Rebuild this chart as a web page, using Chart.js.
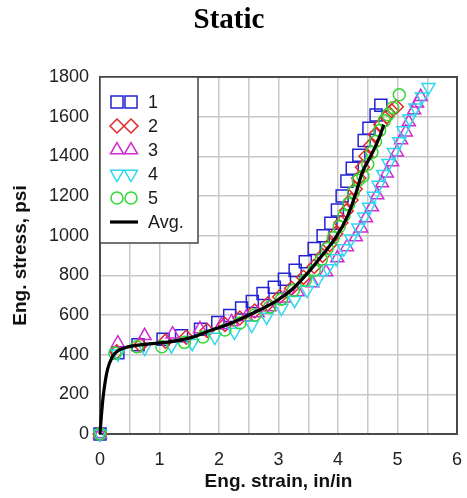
<!DOCTYPE html>
<html><head><meta charset="utf-8">
<script src="https://cdn.jsdelivr.net/npm/chart.js@4/dist/chart.umd.min.js"></script>
<style>html,body{margin:0;padding:0;background:#fff;} #wrap{width:467px;height:498px;position:relative;}</style>
</head><body><div id="wrap"><canvas id="c"></canvas></div>
<script>
// ---- data ----
const seriesNames = ['1', '2', '3', '4', '5', 'Avg.'];

const s1Strain = [0, 0.30, 0.64, 1.06, 1.37, 1.69, 1.98, 2.18, 2.38, 2.56, 2.74, 2.93, 3.10, 3.28, 3.45, 3.60, 3.75, 3.88, 3.99, 4.07, 4.15, 4.24, 4.35, 4.44, 4.52, 4.64, 4.72];
const s1Stress = [0, 410, 450, 478, 495, 528, 562, 598, 635, 668, 708, 740, 780, 825, 868, 935, 1000, 1063, 1129, 1200, 1275, 1340, 1406, 1480, 1542, 1608, 1658];

const s2Strain = [0, 0.28, 0.68, 1.10, 1.45, 1.80, 2.10, 2.35, 2.60, 2.82, 3.02, 3.22, 3.42, 3.60, 3.74, 3.86, 3.96, 4.05, 4.14, 4.22, 4.29, 4.35, 4.41, 4.47, 4.55, 4.63, 4.72, 4.82, 4.90, 4.98];
const s2Stress = [0, 415, 448, 468, 488, 522, 552, 585, 620, 655, 692, 735, 790, 845, 900, 955, 1010, 1065, 1125, 1180, 1235, 1290, 1345, 1400, 1455, 1510, 1560, 1600, 1630, 1650];

const s3Strain = [0, 0.30, 0.75, 1.22, 1.68, 2.04, 2.21, 2.46, 2.65, 2.85, 3.10, 3.32, 3.57, 3.80, 3.99, 4.15, 4.30, 4.39, 4.47, 4.57, 4.66, 4.74, 4.82, 4.91, 4.99, 5.06, 5.14, 5.19, 5.28, 5.33, 5.39];
const s3Stress = [0, 458, 495, 503, 530, 550, 565, 590, 610, 640, 685, 716, 761, 817, 887, 943, 993, 1038, 1089, 1144, 1205, 1265, 1315, 1371, 1421, 1482, 1522, 1573, 1633, 1668, 1700];

const s4Strain = [0, 0.30, 0.75, 1.20, 1.55, 1.93, 2.26, 2.55, 2.80, 3.05, 3.27, 3.48, 3.66, 3.82, 3.97, 4.10, 4.22, 4.34, 4.44, 4.52, 4.60, 4.68, 4.76, 4.85, 4.94, 5.03, 5.10, 5.20, 5.30, 5.41, 5.52];
const s4Stress = [0, 405, 433, 445, 458, 489, 514, 549, 590, 635, 675, 726, 780, 835, 885, 935, 985, 1040, 1095, 1145, 1200, 1255, 1310, 1365, 1420, 1475, 1530, 1590, 1645, 1700, 1748];

const s5Strain = [0, 0.25, 0.62, 1.04, 1.42, 1.73, 2.10, 2.35, 2.60, 2.85, 3.05, 3.25, 3.45, 3.60, 3.72, 3.82, 3.92, 4.02, 4.10, 4.18, 4.26, 4.34, 4.42, 4.50, 4.57, 4.63, 4.70, 4.78, 4.84, 4.92, 5.03];
const s5Stress = [0, 408, 440, 440, 462, 489, 524, 560, 600, 640, 680, 725, 775, 825, 880, 935, 990, 1045, 1100, 1160, 1220, 1280, 1300, 1360, 1420, 1475, 1530, 1580, 1610, 1645, 1710];

const avgStrain = [0, 0.02, 0.05, 0.09, 0.13, 0.20, 0.28, 0.42, 0.75, 1.14, 1.54, 1.84, 2.12, 2.40, 2.68, 2.96, 3.23, 3.50, 3.65, 3.80, 3.97, 4.17, 4.30, 4.41, 4.52, 4.60, 4.70, 4.77];
const avgStress = [0, 80, 180, 270, 330, 385, 415, 435, 452, 463, 487, 520, 549, 585, 625, 670, 730, 815, 870, 925, 995, 1105, 1214, 1320, 1385, 1431, 1500, 1560];

const xTickValues = [0, 1, 2, 3, 4, 5, 6];
const yTickValues = [0, 200, 400, 600, 800, 1000, 1200, 1400, 1600, 1800];

// ---- styling ----
const FONT = 'Arial, "Liberation Sans", sans-serif';
const markerStyles = [
  {color: '#2323d2', pointStyle: 'rect', radius: 8.5, rotation: 0},
  {color: '#e02828', pointStyle: 'rectRot', radius: 7, rotation: 0},
  {color: '#d22ad2', pointStyle: 'triangle', radius: 7.5, rotation: 0},
  {color: '#2ed8ee', pointStyle: 'triangle', radius: 7.5, rotation: 180},
  {color: '#33d633', pointStyle: 'circle', radius: 6, rotation: 0}
];

function pts(xs, ys) { return xs.map((x, i) => ({x: x, y: ys[i]})); }
const markerData = [
  pts(s1Strain, s1Stress), pts(s2Strain, s2Stress), pts(s3Strain, s3Stress),
  pts(s4Strain, s4Stress), pts(s5Strain, s5Stress)
];

const datasets = [{
  label: seriesNames[5],
  data: pts(avgStrain, avgStress),
  showLine: true,
  borderColor: '#000',
  borderWidth: 3.2,
  pointRadius: 0,
  cubicInterpolationMode: 'monotone',
  order: -1,
  clip: false
}];
markerData.forEach((d, i) => {
  const m = markerStyles[i];
  datasets.push({
    label: seriesNames[i],
    data: d,
    showLine: false,
    pointStyle: m.pointStyle,
    pointRotation: m.rotation,
    pointRadius: m.radius,
    pointBorderWidth: 1.5,
    borderColor: m.color,
    backgroundColor: 'rgba(0,0,0,0)',
    pointBackgroundColor: 'rgba(0,0,0,0)',
    order: 5 - i,
    clip: false
  });
});

const framePlugin = {
  id: 'frame',
  beforeDatasetsDraw(chart) {
    const {ctx, chartArea: a} = chart;
    ctx.save();
    ctx.strokeStyle = '#4a4a4a';
    ctx.lineWidth = 2;
    ctx.strokeRect(a.left, a.top, a.right - a.left, a.bottom - a.top);
    ctx.restore();
  }
};

function drawMarker(ctx, m, x, y) {
  ctx.save();
  ctx.strokeStyle = m.color;
  ctx.fillStyle = 'rgba(0,0,0,0)';
  ctx.lineWidth = 1.5;
  if (Chart.helpers && Chart.helpers.drawPoint) {
    Chart.helpers.drawPoint(ctx, {pointStyle: m.pointStyle, rotation: m.rotation, radius: m.radius, borderWidth: 1.5}, x, y);
  } else {
    ctx.beginPath();
    ctx.arc(x, y, m.radius, 0, Math.PI * 2);
    ctx.stroke();
  }
  ctx.restore();
}

const legendPlugin = {
  id: 'boxLegend',
  afterDraw(chart) {
    const {ctx, chartArea: a} = chart;
    const left = a.left, top = a.top, w = 98, h = 166;
    ctx.save();
    ctx.fillStyle = '#fff';
    ctx.fillRect(left, top, w, h);
    ctx.strokeStyle = '#444';
    ctx.lineWidth = 1.5;
    ctx.strokeRect(left, top, w, h);
    ctx.font = '18px ' + FONT;
    ctx.fillStyle = '#1a1a1a';
    ctx.textBaseline = 'middle';
    ctx.textAlign = 'left';
    const rowH = 24, firstY = top + 25;
    for (let i = 0; i < 6; i++) {
      const y = firstY + i * rowH;
      if (i < 5) {
        drawMarker(ctx, markerStyles[i], left + 17, y);
        drawMarker(ctx, markerStyles[i], left + 31, y);
      } else {
        ctx.save();
        ctx.strokeStyle = '#000';
        ctx.lineWidth = 3.2;
        ctx.beginPath();
        ctx.moveTo(left + 10, y);
        ctx.lineTo(left + 38, y);
        ctx.stroke();
        ctx.restore();
      }
      ctx.fillText(seriesNames[i], left + 48, y + 1);
    }
    ctx.restore();
  }
};

new Chart(document.getElementById('c'), {
  type: 'scatter',
  data: {datasets: datasets},
  options: {
    responsive: true,
    maintainAspectRatio: false,
    animation: false,
    devicePixelRatio: 1,
    layout: {padding: {left: 0, right: 9, top: 0, bottom: 0}},
    plugins: {
      legend: {display: false},
      tooltip: {enabled: false},
      title: {
        display: true,
        text: 'Static',
        color: '#000',
        font: {family: '"Liberation Serif", "Times New Roman", serif', size: 29, weight: 'bold'},
        padding: {top: 3, bottom: 39.2}
      }
    },
    scales: {
      x: {
        type: 'linear',
        min: 0, max: 6,
        afterFit(scale) { scale.height = 64; scale.paddingLeft = 0; scale.paddingRight = 0; },
        afterBuildTicks(scale) {
          const t = [];
          for (let v = 0; v <= 12; v++) t.push({value: v / 2});
          scale.ticks = t;
        },
        ticks: {
          autoSkip: false,
          maxRotation: 0,
          padding: 15,
          color: '#222',
          font: {family: FONT, size: 18},
          callback: (v) => xTickValues.includes(v) ? String(v) : ''
        },
        grid: {color: '#c8c8c8', lineWidth: 1.5, drawTicks: false},
        border: {display: false},
        title: {
          display: true,
          text: 'Eng. strain, in/in',
          color: '#111',
          font: {family: FONT, size: 19, weight: 'bold'},
          padding: {top: 0, bottom: 5}
        }
      },
      y: {
        type: 'linear',
        min: 0, max: 1800,
        afterFit(scale) { scale.width = 100; scale.paddingTop = 0; scale.paddingBottom = 0; },
        afterBuildTicks(scale) { scale.ticks = yTickValues.map(v => ({value: v})); },
        ticks: {
          autoSkip: false,
          padding: 11,
          color: '#222',
          font: {family: FONT, size: 18},
          callback: (v) => String(v)
        },
        grid: {color: '#c8c8c8', lineWidth: 1.5, drawTicks: false},
        border: {display: false},
        title: {
          display: true,
          text: 'Eng. stress, psi',
          color: '#111',
          font: {family: FONT, size: 19, weight: 'bold'},
          padding: {top: 9, bottom: 0}
        }
      }
    }
  },
  plugins: [framePlugin, legendPlugin]
});
</script>
</body></html>
